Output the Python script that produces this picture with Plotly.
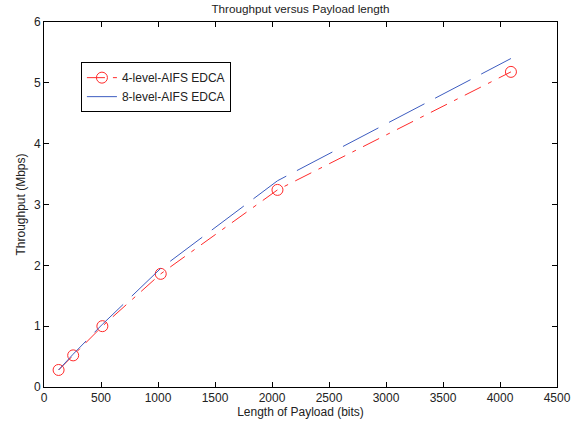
import plotly.graph_objects as go

payload_bits = [128, 256, 512, 1024, 2048, 4096]
aifs4_throughput = [0.28, 0.52, 1.00, 1.86, 3.24, 5.18]
aifs8_throughput = [0.28, 0.54, 1.03, 1.95, 3.39, 5.40]

x_ticks = [0, 500, 1000, 1500, 2000, 2500, 3000, 3500, 4000, 4500]
y_ticks = [0, 1, 2, 3, 4, 5, 6]

FONT = "Liberation Sans, Arial, sans-serif"

fig = go.Figure()
fig.add_trace(go.Scatter(
    x=payload_bits, y=aifs4_throughput, mode="lines+markers",
    name="4-level-AIFS EDCA",
    line=dict(color="#ff2a2a", width=1, dash="18px,8px,4px,8px"),
    marker=dict(symbol="circle-open", size=11, color="#ff2a2a", line=dict(width=1)),
))
fig.add_trace(go.Scatter(
    x=payload_bits, y=aifs8_throughput, mode="lines",
    name="8-level-AIFS EDCA",
    line=dict(color="#3d5cc0", width=1, dash="40px,12px"),
))

axis_common = dict(
    showline=True, linecolor="black", linewidth=1, mirror="ticks",
    ticks="inside", ticklen=5, tickcolor="black", showgrid=False, zeroline=False,
    tickfont=dict(family=FONT, size=12, color="#222222"),
)

fig.update_layout(
    width=586, height=428,
    margin=dict(l=44, r=29, t=22, b=41),
    paper_bgcolor="white", plot_bgcolor="white",
    font=dict(family=FONT, size=12, color="#222222"),
    title=dict(text="Throughput versus Payload length", x=0.5, xref="paper",
               y=1 - 8.5 / 428, yref="container", yanchor="middle",
               font=dict(family=FONT, size=11.7, color="#222222")),
    xaxis=dict(range=[0, 4500], tickvals=x_ticks,
               title=dict(text="Length of Payload (bits)", standoff=3,
                          font=dict(family=FONT, size=12)), **axis_common),
    yaxis=dict(range=[0, 6], tickvals=y_ticks,
               title=dict(text="Throughput (Mbps)", standoff=5,
                          font=dict(family=FONT, size=12)), **axis_common),
    legend=dict(x=0.072, y=0.89, xanchor="left", yanchor="top",
                bordercolor="black", borderwidth=1, bgcolor="white",
                font=dict(family=FONT, size=12), itemwidth=30,
                tracegroupgap=0),
    showlegend=True,
)

fig.write_html("out.html")
